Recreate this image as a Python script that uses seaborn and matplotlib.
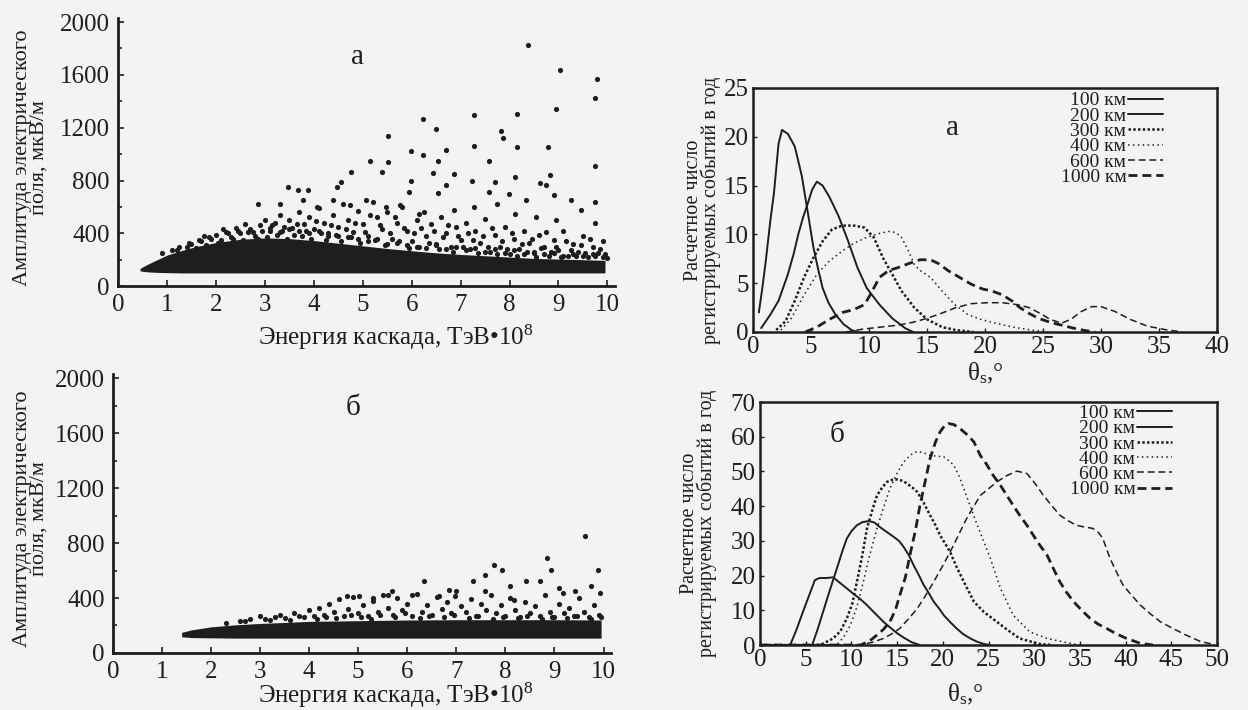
import matplotlib
matplotlib.use('Agg')
import matplotlib.pyplot as plt
import seaborn as sns

# ---------------- data: scatter panels (amplitude vs cascade energy) ----------------
# dense core band of panel "а" (edges of the solid black cloud)
core_a_x = [0.45, 0.6, 0.8, 1.0, 1.3, 1.6, 2.0, 2.5, 3.0, 3.5, 4.0, 4.5, 5.0, 5.5, 6.0, 6.5, 7.0, 7.5, 8.0, 8.5, 9.0, 9.5, 9.95]
core_a_lo = [115, 108, 104, 102, 100, 100, 100, 100, 100, 100, 100, 100, 100, 100, 100, 100, 100, 100, 100, 100, 100, 100, 100]
core_a_hi = [135, 165, 200, 235, 270, 300, 330, 355, 365, 360, 345, 325, 305, 285, 268, 252, 240, 230, 220, 210, 205, 200, 195]

# scattered points above the core, panel "а"
pts_a_x = [1.2, 1.4, 1.5, 1.7, 1.8, 1.9, 2.0, 2.1, 2.2, 2.3, 2.4, 2.5, 2.6, 2.7, 2.8, 2.9, 3.0, 3.1, 3.2, 3.3,
           3.4, 3.5, 3.6, 3.7, 3.8, 3.9, 4.0, 4.1, 4.2, 4.3, 4.4, 4.5, 4.6, 4.7, 4.8, 4.9, 5.0, 5.1, 5.2, 5.3,
           5.4, 5.5, 5.6, 5.7, 5.8, 5.9, 6.0, 6.1, 6.2, 6.3, 6.4, 6.5, 6.6, 6.7, 6.8, 6.9, 7.0, 7.1, 7.2, 7.3,
           7.4, 7.5, 7.6, 7.7, 7.8, 7.9, 8.0, 8.1, 8.2, 8.3, 8.4, 8.5, 8.6, 8.7, 8.8, 8.9, 9.0, 9.1, 9.2, 9.3,
           9.4, 9.5, 9.6, 9.7, 9.8, 9.9, 10.0,
           1.3, 1.6, 1.75, 2.05, 2.15, 2.35, 2.55, 2.65, 2.85, 2.95, 3.05, 3.15, 3.25, 3.35, 3.45, 3.55, 3.65,
           3.75, 3.85, 3.95, 4.05, 4.15, 4.25, 4.35, 4.45, 4.55, 4.65, 4.75, 4.85, 4.95, 5.05, 5.15, 5.25, 5.35,
           5.45, 5.55, 5.65, 5.75, 5.85, 5.95, 6.05, 6.15, 6.25, 6.35, 6.45, 6.55, 6.65, 6.75, 6.85, 6.95, 7.05,
           7.15, 7.25, 7.35, 7.45, 7.55, 7.65, 7.75, 7.85, 7.95, 8.05, 8.15, 8.25, 8.35, 8.45, 8.55, 8.65, 8.75,
           8.85, 8.95, 9.05, 9.15, 9.25, 9.35, 9.45, 9.55, 9.65, 9.75, 9.85, 9.95,
           0.9, 1.1, 1.25, 1.45, 1.65, 1.85, 2.25, 2.45, 2.75, 3.1, 3.3, 3.5, 3.7, 3.9, 4.1, 4.3, 4.5, 4.7,
           4.9, 5.1, 5.3, 5.5, 5.7, 5.9, 6.1, 6.3, 6.5, 6.7, 6.9, 7.1, 7.3, 7.5, 7.7, 7.9, 8.1, 8.3, 8.5, 8.7,
           8.9, 9.1, 9.3, 9.5, 9.7, 9.9]
pts_a_y = [270, 300, 320, 340, 310, 360, 390, 350, 410, 370, 440, 400, 470, 430, 380, 460, 500, 420, 480, 540,
           450, 500, 390, 560, 470, 520, 430, 590, 480, 380, 540, 450, 620, 500, 410, 570, 470, 380, 640, 520,
           430, 560, 360, 480, 600, 420, 340, 500, 440, 380, 470, 320, 520, 400, 300, 450, 350, 480, 280, 420,
           330, 510, 260, 390, 300, 450, 240, 360, 280, 420, 330, 250, 390, 300, 230, 350, 270, 420, 230, 320,
           260, 380, 220, 300, 250, 340, 210,
           240, 290, 380, 330, 430, 360, 350, 410, 360, 420, 370, 460, 390, 420, 360, 440, 470,
           380, 420, 360, 490, 400, 350, 460, 390, 340, 430, 370, 480, 330, 410, 540, 350, 460,
           310, 400, 520, 340, 440, 290, 400, 300, 560, 330, 420, 280, 370, 460, 260, 380, 300,
           400, 350, 250, 380, 300, 440, 240, 340, 280, 400, 230, 320, 260, 360, 220, 290, 410,
           260, 300, 220, 340, 270, 230, 310, 250, 360, 230, 280, 240,
           250, 270, 300, 330, 350, 370, 400, 420, 410, 440, 410, 430, 420, 400, 420, 400, 380, 370,
           360, 340, 360, 320, 330, 310, 300, 290, 310, 280, 300, 270, 290, 260, 280, 250, 270, 240, 260, 240,
           250, 230, 240, 230, 240, 220]

# isolated high-amplitude events, panel "а"
out_a_x = [8.37, 9.04, 9.79, 9.75, 8.95, 8.16, 7.28, 6.23, 6.49, 7.82, 7.87, 5.52, 7.28, 8.16, 8.79, 6.70, 5.98,
           6.23, 6.53, 7.57, 5.15, 5.52, 9.75, 4.77, 5.40, 6.44, 8.83, 6.86, 4.56, 5.98, 7.24, 7.70, 8.12, 8.62,
           4.48, 6.70, 8.74, 3.89, 3.47, 3.68, 7.57, 7.99, 5.94, 6.53, 8.91, 9.25, 9.75, 8.33, 2.85, 3.31, 3.77,
           4.06, 4.39, 4.73, 5.06, 5.48, 5.77, 6.14, 6.86, 7.28, 7.74, 8.12, 8.54, 8.95, 9.75, 9.46]
out_a_y = [1830, 1638, 1570, 1425, 1338, 1300, 1293, 1268, 1188, 1175, 1125, 1138, 1063, 1055, 1050, 1033, 1025,
           993, 950, 950, 950, 938, 913, 863, 863, 855, 838, 850, 788, 800, 800, 788, 825, 780,
           750, 768, 763, 725, 750, 730, 713, 700, 713, 705, 688, 650, 638, 650, 620, 625, 650,
           600, 650, 613, 650, 600, 613, 550, 575, 600, 625, 550, 525, 500, 475, 575]

# panel "б"
core_b_x = [1.4, 1.6, 2.0, 2.5, 3.0, 3.5, 4.0, 5.0, 6.0, 7.0, 8.0, 9.0, 9.95]
core_b_lo = [118, 112, 110, 108, 108, 108, 108, 108, 108, 108, 108, 108, 108]
core_b_hi = [150, 168, 190, 205, 215, 222, 230, 235, 240, 242, 242, 242, 240]

pts_b_x = [2.6, 2.8, 3.0, 3.2, 3.4, 3.5, 3.7, 3.9, 4.0, 4.1, 4.2, 4.3, 4.4, 4.5, 4.6, 4.7, 4.8, 4.9, 5.0, 5.1,
           5.2, 5.3, 5.4, 5.5, 5.6, 5.7, 5.8, 5.9, 6.0, 6.1, 6.2, 6.3, 6.4, 6.5, 6.6, 6.7, 6.8, 6.9, 7.0, 7.1,
           7.2, 7.3, 7.4, 7.5, 7.6, 7.7, 7.8, 7.9, 8.0, 8.1, 8.2, 8.3, 8.4, 8.5, 8.6, 8.7, 8.8, 8.9, 9.0, 9.1,
           9.2, 9.3, 9.4, 9.5, 9.6, 9.7, 9.8, 9.9,
           2.3, 2.7, 3.1, 3.3, 3.6, 3.8, 4.15, 4.35, 4.55, 4.85, 5.05, 5.25, 5.45, 5.75, 5.95, 6.25, 6.45, 6.75,
           6.95, 7.25, 7.45, 7.75, 7.95, 8.25, 8.45, 8.75, 8.95, 9.25, 9.45, 9.75, 9.95]
pts_b_y = [230, 250, 270, 240, 280, 255, 290, 260, 310, 270, 330, 280, 360, 300, 390, 270, 320, 410, 290, 350,
           270, 380, 300, 420, 330, 280, 400, 310, 360, 270, 430, 300, 350, 280, 410, 320, 370, 290, 450, 340,
           300, 390, 270, 360, 310, 420, 290, 350, 270, 400, 310, 260, 370, 290, 340, 270, 420, 300, 260, 360,
           290, 330, 270, 400, 300, 260, 350, 280,
           215, 235, 245, 260, 240, 270, 250, 265, 255, 280, 260, 250, 275, 260, 290, 255, 270, 260,
           275, 255, 270, 250, 265, 255, 270, 250, 265, 255, 270, 250, 260]

out_b_x = [9.63, 8.84, 8.92, 7.76, 7.93, 9.88, 7.59, 8.09, 8.42, 8.71, 7.34, 6.35, 6.85, 6.64, 6.97, 7.59, 9.09,
           9.42, 9.92, 9.75, 9.17, 8.17, 5.30, 4.77, 5.60, 5.68, 6.10, 5.02]
out_b_y = [848, 691, 606, 642, 606, 606, 570, 485, 521, 521, 521, 521, 461, 412, 412, 448, 473,
           448, 436, 485, 436, 388, 400, 417, 424, 448, 420, 412]

# ---------------- data: registered events per year vs theta_s ----------------
dist_labels = ['100 км', '200 км', '300 км', '400 км', '600 км', '1000 км']

a_100_x = [0.5, 0.8, 1.1, 1.5, 1.8, 2.2, 2.5, 3.0, 3.6, 4.2, 4.7, 5.2, 5.6, 6.0, 6.5, 7.1, 7.8, 8.5, 9.0]
a_100_y = [2.0, 4.5, 7.3, 11.5, 14.2, 19.3, 20.7, 20.3, 19.0, 16.0, 12.4, 8.7, 6.5, 4.5, 3.0, 1.8, 0.8, 0.2, 0.0]
a_200_x = [0.7, 1.5, 2.2, 3.0, 3.5, 3.9, 4.3, 4.7, 5.1, 5.5, 6.0, 6.6, 7.4, 8.2, 9.0, 9.8, 10.9, 12.0, 13.1, 13.8]
a_200_y = [0.4, 1.8, 3.2, 5.9, 8.0, 10.0, 11.7, 13.1, 14.6, 15.4, 15.0, 13.8, 11.8, 9.3, 6.6, 4.5, 2.8, 1.4, 0.4, 0.0]
a_300_x = [2.0, 2.8, 3.6, 4.4, 5.2, 6.0, 6.8, 7.7, 8.7, 9.6, 10.4, 11.2, 12.0, 12.8, 13.9, 15.0, 16.3, 17.5, 19.0]
a_300_y = [0.2, 1.1, 3.2, 5.6, 7.6, 9.3, 10.5, 10.9, 10.9, 10.7, 9.7, 7.6, 5.9, 4.2, 2.5, 1.3, 0.5, 0.2, 0.0]
a_400_x = [2.4, 3.3, 4.4, 5.5, 6.6, 7.7, 8.7, 9.8, 10.9, 11.7, 12.3, 12.8, 13.4, 13.9, 14.4, 15.3, 16.3, 17.4,
           18.5, 19.6, 20.6, 22.4, 24.0, 25.5]
a_400_y = [0.2, 1.4, 3.8, 5.9, 7.3, 8.3, 9.1, 9.7, 10.1, 10.3, 10.2, 9.7, 8.3, 6.9, 6.3, 5.6, 4.2, 2.8,
           1.8, 1.3, 1.0, 0.5, 0.2, 0.0]
a_600_x = [8.0, 9.5, 11.0, 12.5, 13.8, 15.0, 16.2, 17.5, 18.8, 20.2, 21.5, 22.8, 23.8, 24.6, 25.6, 26.6, 27.4,
           28.3, 29.2, 30.0, 31.2, 32.5, 34.0, 35.5, 37.0]
a_600_y = [0.0, 0.3, 0.5, 0.7, 1.0, 1.4, 1.9, 2.5, 2.9, 3.0, 3.0, 2.8, 2.5, 2.0, 1.3, 0.9, 1.3,
           2.1, 2.6, 2.6, 2.1, 1.3, 0.6, 0.25, 0.0]
a_1000_x = [4.5, 5.5, 6.6, 7.7, 8.7, 9.6, 10.1, 10.9, 11.7, 12.5, 13.4, 14.4, 15.3, 16.0, 16.8, 17.8, 18.8, 19.8,
            20.6, 21.5, 22.3, 23.0, 23.8, 24.6, 25.6, 26.6, 27.6, 28.6, 29.5]
a_1000_y = [0.0, 0.5, 1.3, 2.0, 2.3, 2.8, 3.8, 5.6, 6.3, 6.6, 7.0, 7.4, 7.4, 7.0, 6.3, 5.6, 4.9, 4.4,
            4.2, 3.8, 3.2, 2.5, 1.9, 1.4, 1.0, 0.7, 0.4, 0.15, 0.0]

b_100_x = [0, 3.3, 4.0, 4.7, 5.4, 6.0, 6.5, 7.2, 8.0, 8.7, 9.5, 10.2, 10.9, 11.7, 12.4, 13.5, 14.3, 15.0, 15.8, 16.6, 17.5]
b_100_y = [0, 0, 4.5, 9.6, 14.5, 18.7, 19.3, 19.3, 19.5, 18.0, 16.3, 14.8, 13.4, 11.5, 9.6, 6.7, 4.9, 3.4, 2.0, 0.8, 0.0]
b_200_x = [0, 5.7, 6.3, 6.9, 7.6, 8.4, 9.0, 9.5, 10.0, 10.6, 11.2, 11.9, 12.5, 13.1, 13.9, 14.6, 15.2, 15.7, 16.3,
           16.8, 17.4, 17.9, 18.5, 19.0, 19.6, 20.1, 20.8, 21.5, 22.2, 23.0, 23.8, 24.5, 25.2]
b_200_y = [0, 0, 4.5, 9.6, 15.5, 22.0, 27.0, 30.7, 32.8, 34.5, 35.4, 35.7, 35.3, 34.0, 32.5, 31.2, 30.0, 28.3, 25.8,
           23.0, 20.0, 17.3, 14.8, 12.5, 10.5, 8.6, 6.6, 4.8, 3.2, 1.9, 0.9, 0.3, 0.0]
b_300_x = [0, 6.6, 8.0, 8.8, 9.5, 10.1, 10.6, 11.2, 11.7, 12.3, 12.8, 13.4, 13.9, 14.5, 15.0, 15.6, 16.1, 16.7,
           17.2, 17.9, 18.6, 19.2, 19.7, 20.3, 20.8, 21.5, 22.3, 23.4, 24.5, 25.5, 27.0, 28.4, 30.6, 32.0]
b_300_y = [0, 0, 1.9, 4.0, 7.7, 12.0, 18.2, 26.0, 33.6, 39.0, 43.1, 45.5, 47.0, 47.6, 47.7, 47.3, 46.5, 45.3,
           44.1, 41.0, 37.4, 34.5, 31.6, 29.0, 26.8, 22.5, 18.2, 12.5, 9.5, 7.5, 4.5, 1.9, 0.3, 0.0]
b_400_x = [0, 8.4, 9.2, 9.9, 10.6, 11.3, 12.0, 12.8, 13.5, 14.2, 15.0, 15.7, 16.5, 17.2, 17.9, 18.6, 19.4, 20.1,
           20.7, 21.2, 21.8, 22.3, 23.0, 23.7, 24.3, 25.2, 26.3, 27.7, 29.5, 31.4, 33.9, 35.0]
b_400_y = [0, 0, 2.5, 5.8, 11.0, 18.2, 26.0, 33.6, 39.5, 45.0, 49.5, 52.7, 54.8, 55.8, 55.4, 54.6, 54.4, 54.2,
           53.0, 51.8, 48.5, 45.0, 40.0, 35.0, 31.0, 25.0, 16.3, 8.6, 3.8, 1.9, 0.5, 0.0]
b_600_x = [0, 11.0, 12.3, 13.5, 14.4, 15.3, 16.2, 17.2, 18.1, 19.0, 19.9, 20.8, 21.7, 22.6, 23.4, 24.1, 25.0, 25.9,
           27.0, 28.1, 29.2, 30.1, 31.0, 31.9, 32.8, 33.7, 34.6, 35.5, 36.4, 37.0, 37.5, 38.3, 39.0, 39.7, 40.6,
           41.6, 42.7, 43.8, 45.0, 46.5, 48.2, 49.6]
b_600_y = [0, 0, 0.8, 1.9, 3.2, 4.8, 7.4, 10.5, 14.2, 18.2, 22.4, 26.8, 31.6, 36.4, 40.0, 43.1, 45.0, 47.0,
           48.8, 50.1, 49.4, 46.5, 43.1, 40.2, 37.4, 35.8, 34.5, 34.0, 33.6, 32.5, 30.7, 24.9, 21.0, 17.3, 14.5,
           11.5, 9.0, 6.7, 5.0, 3.0, 1.0, 0.2]
b_1000_x = [0, 11.0, 12.0, 12.8, 13.5, 14.2, 14.8, 15.3, 15.9, 16.4, 17.0, 17.5, 18.1, 18.6, 19.2, 19.7, 20.2,
            20.6, 21.2, 21.9, 22.7, 23.4, 24.1, 24.8, 25.5, 26.3, 27.0, 27.7, 28.4, 29.2, 29.9, 30.6, 31.4, 32.1,
            32.8, 33.5, 34.3, 35.2, 36.1, 37.0, 37.9, 39.0, 40.1, 41.6, 43.0]
b_1000_y = [0, 0, 1.2, 2.9, 4.5, 6.7, 10.0, 14.4, 19.5, 25.9, 33.0, 40.3, 47.5, 53.7, 58.5, 61.4, 63.2,
            63.8, 63.5, 62.3, 60.5, 58.5, 54.6, 52.0, 48.9, 46.0, 43.1, 40.2, 37.4, 34.5, 31.6, 28.8, 25.9, 22.0,
            18.2, 15.3, 12.5, 10.0, 7.7, 6.0, 4.8, 3.2, 1.9, 0.5, 0.0]

# line look for each distance: (dash pattern, width)
line_styles = ['-', '-', (0, (1.0, 0.9)), (0, (1.0, 2.2)), (0, (4.5, 2.5)), (0, (3.2, 1.8))]
line_widths = [1.4, 1.4, 1.8, 1.1, 1.1, 2.0]

# ---------------- style ----------------
paper = '#f3f3f1'
ink = '#1e1e1e'
sns.set_theme(style='ticks')
plt.rcParams['font.family'] = ['Liberation Serif', 'DejaVu Serif']
plt.rcParams['mathtext.fontset'] = 'custom'
plt.rcParams['mathtext.rm'] = 'Liberation Serif'
plt.rcParams['mathtext.it'] = 'Liberation Serif:italic'
plt.rcParams['text.color'] = ink
plt.rcParams['axes.labelcolor'] = ink
plt.rcParams['xtick.color'] = ink
plt.rcParams['ytick.color'] = ink

fig = plt.figure(figsize=(12.48, 7.10), dpi=100, facecolor=paper)

ax_sa = fig.add_axes([0.0946, 0.597, 0.398, 0.3775])
ax_sb = fig.add_axes([0.0905, 0.0803, 0.399, 0.393])
ax_la = fig.add_axes([0.6034, 0.5324, 0.3718, 0.3437])
ax_lb = fig.add_axes([0.6090, 0.0915, 0.3662, 0.3423])


def scatter_panel(ax, cx, clo, chi, px, py, ox, oy, letter, letter_xy, lab_x):
    ax.set_facecolor('none')
    ax.fill_between(cx, clo, chi, color=ink, linewidth=0)
    sns.scatterplot(x=px, y=py, ax=ax, color=ink, s=14, linewidth=0)
    sns.scatterplot(x=ox, y=oy, ax=ax, color=ink, s=14, linewidth=0)
    ax.set_xlim(0, 10.15)
    ax.set_ylim(0, 2030)
    ax.set_xticks(range(0, 11))
    ax.set_yticks(range(0, 2001, 400))
    ax.set_yticks(range(0, 2001, 200), minor=True)
    ax.tick_params(which='both', direction='in', length=4, width=1.2, labelsize=18, pad=6)
    ax.tick_params(which='minor', length=3)
    sns.despine(ax=ax)
    for s in ('left', 'bottom'):
        ax.spines[s].set_linewidth(2.0)
        ax.spines[s].set_color(ink)
    ax.set_xlabel('Энергия каскада, ТэВ•10$^8$', fontsize=18)
    ax.set_ylabel('Амплитуда электрического\nполя, мкВ/м', fontsize=16, linespacing=0.85)
    ax.yaxis.set_label_coords(lab_x, 0.48)
    ax.text(letter_xy[0], letter_xy[1], letter, fontsize=21, ha='center', va='center')


scatter_panel(ax_sa, core_a_x, core_a_lo, core_a_hi, pts_a_x, pts_a_y, out_a_x, out_a_y,
              'а', (4.9, 1735), -0.139)
ax_sa.xaxis.set_label_coords(0.56, -0.135)

scatter_panel(ax_sb, core_b_x, core_b_lo, core_b_hi, pts_b_x, pts_b_y, out_b_x, out_b_y,
              'б', (4.9, 1780), -0.129)
ax_sb.xaxis.set_label_coords(0.568, -0.100)


def line_panel(ax, curves, xmax, ymax, xstep, ystep, letter, letter_xy, lab_x, xl_xy, leg_xy):
    ax.set_facecolor('none')
    for (cx, cy), lab, ls, lw in zip(curves, dist_labels, line_styles, line_widths):
        sns.lineplot(x=cx, y=cy, ax=ax, color=ink, linewidth=lw, linestyle=ls,
                     label=lab, sort=False, estimator=None)
    ax.set_xlim(0, xmax)
    ax.set_ylim(0, ymax)
    ax.set_xticks(range(0, xmax + 1, xstep))
    ax.set_yticks(range(0, ymax + 1, ystep))
    ax.tick_params(direction='in', length=3, width=1.0, labelsize=18, pad=3)
    for s in ax.spines.values():
        s.set_linewidth(1.8)
        s.set_color(ink)
    ax.set_xlabel('θ$_{\\mathrm{s}}$,°', fontsize=18)
    ax.xaxis.set_label_coords(xl_xy[0], xl_xy[1])
    ax.set_ylabel('Расчетное число\nрегистрируемых событий в год', fontsize=14.5, linespacing=0.85)
    ax.yaxis.set_label_coords(lab_x, 0.5)
    ax.text(letter_xy[0], letter_xy[1], letter, fontsize=21, ha='center', va='center')
    ax.legend(loc='upper right', bbox_to_anchor=leg_xy, frameon=False, markerfirst=False,
              fontsize=14, handlelength=1.8, handletextpad=0.1, labelspacing=-0.12,
              borderpad=0, borderaxespad=0)


curves_a = [(a_100_x, a_100_y), (a_200_x, a_200_y), (a_300_x, a_300_y),
            (a_400_x, a_400_y), (a_600_x, a_600_y), (a_1000_x, a_1000_y)]
curves_b = [(b_100_x, b_100_y), (b_200_x, b_200_y), (b_300_x, b_300_y),
            (b_400_x, b_400_y), (b_600_x, b_600_y), (b_1000_x, b_1000_y)]

line_panel(ax_la, curves_a, 40, 25, 5, 5, 'а', (17.2, 20.9), -0.069, (0.50, -0.12), (0.884, 0.984))
line_panel(ax_lb, curves_b, 50, 70, 5, 10, 'б', (8.4, 60.5), -0.094, (0.45, -0.15), (0.902, 0.99))

fig.savefig('out.png', dpi=100, facecolor=paper)
